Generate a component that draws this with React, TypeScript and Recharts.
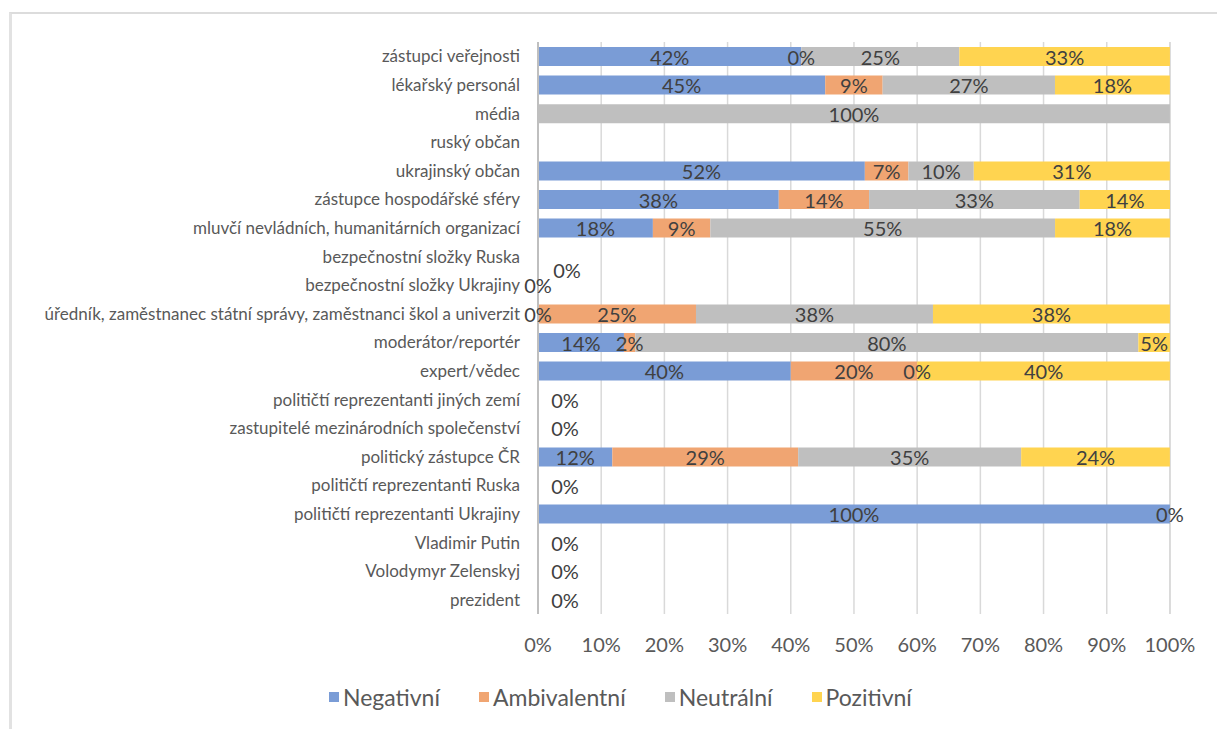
import React from "react";
import {
  BarChart,
  Bar,
  XAxis,
  YAxis,
  CartesianGrid,
  Legend,
  LabelList,
} from "recharts";

// categories, top to bottom
const categories = [
  "zástupci veřejnosti",
  "lékařský personál",
  "média",
  "ruský občan",
  "ukrajinský občan",
  "zástupce hospodářské sféry",
  "mluvčí nevládních, humanitárních organizací",
  "bezpečnostní složky Ruska",
  "bezpečnostní složky Ukrajiny",
  "úředník, zaměstnanec státní správy, zaměstnanci škol a univerzit",
  "moderátor/reportér",
  "expert/vědec",
  "političtí reprezentanti jiných zemí",
  "zastupitelé mezinárodních společenství",
  "politický zástupce ČR",
  "političtí reprezentanti Ruska",
  "političtí reprezentanti Ukrajiny",
  "Vladimir Putin",
  "Volodymyr Zelenskyj",
  "prezident",
];

// shares in %, null = empty cell
const negativni = [41.67, 45.45, null, null, 51.72, 38.1, 18.18, null, 0, 0, 13.6, 40, 0, 0, 11.76, 0, 100, 0, 0, 0];
const ambivalentni = [0, 9.09, null, null, 6.9, 14.29, 9.09, null, 0, 25, 1.8, 20, null, null, 29.41, null, null, null, null, null];
const neutralni = [25, 27.27, 100, null, 10.34, 33.33, 54.55, null, null, 37.5, 79.6, 0, null, null, 35.29, null, null, null, null, null];
const pozitivni = [33.33, 18.18, null, null, 31.03, 14.29, 18.18, null, null, 37.5, 5.0, 40, null, null, 23.53, null, 0, null, null, null];

const xTicks = [0, 10, 20, 30, 40, 50, 60, 70, 80, 90, 100];

const series = [
  { key: "neg", name: "Negativní", color: "#7A9CD6", values: negativni },
  { key: "amb", name: "Ambivalentní", color: "#F0A572", values: ambivalentni },
  { key: "neu", name: "Neutrální", color: "#BFBFBF", values: neutralni },
  { key: "poz", name: "Pozitivní", color: "#FFD450", values: pozitivni },
];

// a zero still carries a "0%" label in the original, so keep it as a hairline bar
const ZERO = 1e-6;
const shown = (v: number | null) => (v === 0 ? ZERO : v);

const data = categories.map((name, i) => ({
  name,
  neg: shown(negativni[i]),
  amb: shown(ambivalentni[i]),
  neu: shown(neutralni[i]),
  poz: shown(pozitivni[i]),
}));

// rendered label index -> data row (empty cells get no entry)
const rowsOf = (vals: (number | null)[]) =>
  vals.map((v, i) => (v == null ? -1 : i)).filter((i) => i >= 0);

const FONT = "Lato, 'Open Sans', sans-serif";

const makeLabel = (sIdx: number) => {
  const rows = rowsOf(series[sIdx].values);
  return (props: any) => {
    const { x, y, width, height, index } = props;
    const row = rows[index];
    if (row == null) return null;
    const raw = series[sIdx].values[row];
    if (raw == null) return null;
    // rows with nothing but zeros: Excel nudged those labels aside
    const rowVals = series.map((s) => s.values[row]);
    const total = rowVals.reduce((a: number, v) => a + (v || 0), 0);
    let dx = 0;
    let dy = 0;
    if (total === 0) {
      const zeros = rowVals.map((v, k) => (v === 0 ? k : -1)).filter((k) => k >= 0);
      if (zeros.length > 1) {
        if (sIdx === zeros[zeros.length - 1]) {
          dx = 29;
          dy = -15;
        }
      } else {
        dx = 27;
      }
    }
    return (
      <text
        x={x + width / 2 + dx}
        y={y + height / 2 + dy}
        textAnchor="middle"
        dominantBaseline="central"
        fill="#404040"
        fontSize={20}
        fontFamily={FONT}
      >
        {Math.round(raw)}%
      </text>
    );
  };
};

const renderLegend = () => (
  <div
    style={{
      display: "flex",
      alignItems: "center",
      height: 24,
      fontFamily: FONT,
      fontSize: 23,
      color: "#595959",
      whiteSpace: "nowrap",
    }}
  >
    {series.map((s) => (
      <div key={s.key} style={{ display: "flex", alignItems: "center", marginRight: 39 }}>
        <span style={{ width: 10, height: 10, background: s.color, marginRight: 4 }} />
        <span>{s.name}</span>
      </div>
    ))}
  </div>
);

export default function App() {
  return (
    <div
      style={{
        position: "absolute",
        left: 0,
        top: 0,
        width: 1217,
        height: 729,
        background: "#fff",
        overflow: "hidden",
      }}
    >
      <div
        style={{
          position: "absolute",
          left: 9,
          top: 12,
          width: 1300,
          height: 800,
          borderTop: "2px solid #DCDCDC",
          borderLeft: "3px solid #E2E2E2",
        }}
      />
      <div style={{ position: "absolute", left: 0, top: 0 }}>
        <BarChart
          width={1217}
          height={729}
          data={data}
          layout="vertical"
          margin={{ top: 42, right: 47, left: 0, bottom: 20 }}
        >
          <CartesianGrid horizontal={false} stroke="#D9D9D9" strokeWidth={1.5} />
          <XAxis
            type="number"
            domain={[0, 100]}
            ticks={xTicks}
            tickFormatter={(v) => `${v}%`}
            axisLine={false}
            tickLine={false}
            tickMargin={18}
            height={71}
            interval={0}
            tick={{ fill: "#595959", fontSize: 20, fontFamily: FONT }}
          />
          <YAxis
            type="category"
            dataKey="name"
            width={538}
            interval={0}
            tickLine={false}
            tickMargin={12}
            axisLine={{ stroke: "#BFBFBF", strokeWidth: 2 }}
            tick={{ fill: "#595959", fontSize: 17, fontFamily: FONT }}
          />
          <Legend
            verticalAlign="bottom"
            content={renderLegend}
            wrapperStyle={{ top: 685, left: 329, bottom: "auto", width: "auto" }}
          />
          {series.map((s, i) => (
            <Bar
              key={s.key}
              dataKey={s.key}
              name={s.name}
              stackId="a"
              fill={s.color}
              barSize={19}
              isAnimationActive={false}
            >
              <LabelList dataKey={s.key} content={makeLabel(i)} />
            </Bar>
          ))}
        </BarChart>
      </div>
    </div>
  );
}
